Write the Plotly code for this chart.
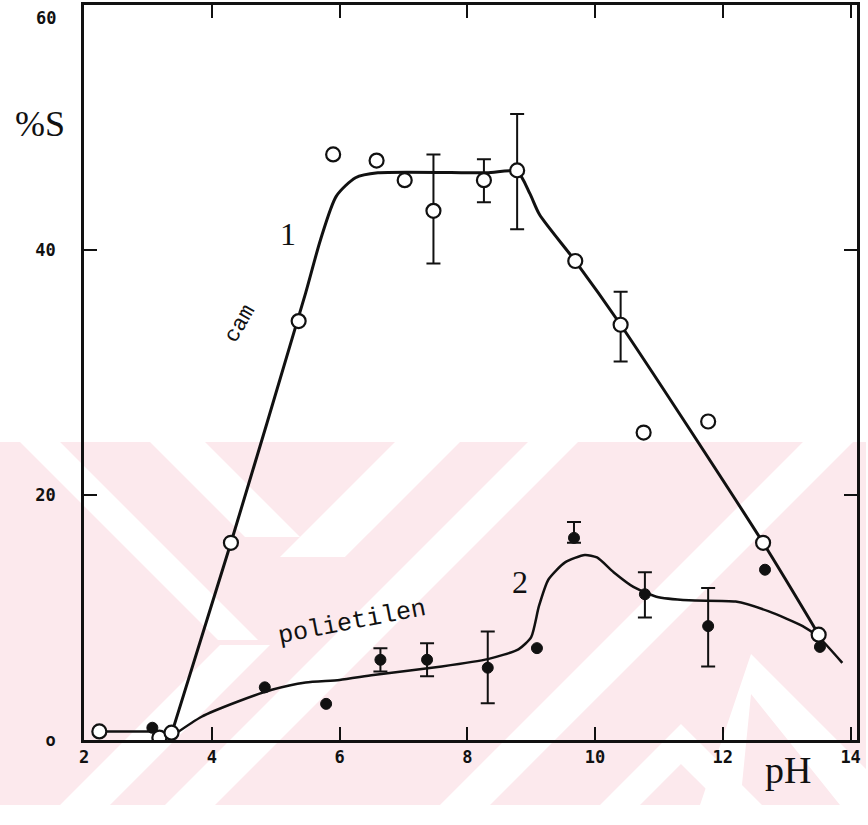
import plotly.graph_objects as go

# ---------------- data ----------------
# series 1 : "cam" (open circles)
ph_cam = [2.24, 3.18, 3.37, 4.30, 5.36, 5.90, 6.58, 7.02, 7.47, 8.26, 8.78, 9.69, 10.40, 10.76, 11.77, 12.63, 13.50]
s_cam = [0.7, 0.2, 0.6, 16.1, 34.2, 47.8, 47.3, 45.7, 43.2, 45.7, 46.5, 39.1, 33.9, 25.1, 26.0, 16.1, 8.6]
err_cam_up = [0, 0, 0, 0, 0, 0, 0, 0, 4.6, 1.7, 4.6, 0, 2.7, 0, 0, 0, 0]
err_cam_dn = [0, 0, 0, 0, 0, 0, 0, 0, 4.3, 1.8, 4.8, 0, 3.0, 0, 0, 0, 0]

# series 2 : "polietilen" (filled dots)
ph_pe = [3.07, 4.83, 5.79, 6.64, 7.37, 8.32, 9.09, 9.67, 10.78, 11.77, 12.66, 13.52]
s_pe = [1.0, 4.3, 2.95, 6.55, 6.55, 5.9, 7.5, 16.5, 11.9, 9.3, 13.9, 7.6]
err_pe_up = [0, 0, 0, 0.95, 1.35, 2.95, 0, 1.3, 1.8, 3.1, 0, 0]
err_pe_dn = [0, 0, 0, 0.95, 1.35, 2.9, 0, 0.4, 1.9, 3.3, 0, 0]

# fitted curves drawn in the figure
curve0_x = [2.24, 3.07]
curve0_y = [0.7, 0.7]
curve1_x = [3.37, 4.30, 5.47, 5.70, 5.95, 6.25, 6.60, 8.30, 8.78, 8.98, 9.13, 9.69, 10.40, 12.63, 13.50]
curve1_y = [0.5, 16.1, 36.5, 40.8, 44.4, 45.9, 46.3, 46.3, 46.4, 44.6, 42.9, 39.1, 33.9, 16.1, 8.6]
curve2_x = [3.40, 3.84, 4.39, 4.94, 5.47, 6.00, 6.53, 7.60, 8.32, 8.80, 9.00, 9.12, 9.27, 9.53, 9.84,
            10.03, 10.29, 10.60, 10.96, 11.47, 12.20, 12.72, 13.25, 13.50, 13.87]
curve2_y = [0.4, 1.9, 3.1, 4.1, 4.7, 4.9, 5.3, 6.0, 6.6, 7.4, 8.4, 10.9, 13.1, 14.5, 15.1,
            14.9, 13.7, 12.5, 11.7, 11.4, 11.3, 10.5, 9.3, 8.4, 6.3]

x_ticks = [2, 4, 6, 8, 10, 12, 14]
y_ticks = [0, 20, 40, 60]
y_ticktext = ["o", "20", "40", ""]   # the "60" label sits a little below the top edge (annotation)
top_label = "60"

# ---------------- layout geometry ----------------
W, H = 868, 825
L, R, T, B = 84, 11, 5, 85
X_RANGE = [2, 14.1]
Y_RANGE = [0, 60]

def px(x):
    return (x - L) / (W - L - R)

def py(y):
    return (H - B - y) / (H - B - T)

BLACK = "#111111"
fig = go.Figure()

fig.add_trace(go.Scatter(x=curve0_x, y=curve0_y, mode="lines",
                         line=dict(color=BLACK, width=2.5), showlegend=False, hoverinfo="skip"))
fig.add_trace(go.Scatter(x=curve1_x, y=curve1_y, mode="lines",
                         line=dict(color=BLACK, width=3, shape="spline", smoothing=0.7),
                         showlegend=False, hoverinfo="skip"))
fig.add_trace(go.Scatter(x=curve2_x, y=curve2_y, mode="lines",
                         line=dict(color=BLACK, width=2.5, shape="spline", smoothing=0.6),
                         showlegend=False, hoverinfo="skip"))


def add_series(xs, ys, up, dn, marker, capw):
    has = [i for i in range(len(xs)) if up[i] > 0 or dn[i] > 0]
    fig.add_trace(go.Scatter(
        x=[xs[i] for i in has], y=[ys[i] for i in has], mode="markers",
        marker=dict(size=1, opacity=0),
        error_y=dict(type="data", symmetric=False, array=[up[i] for i in has],
                     arrayminus=[dn[i] for i in has], color=BLACK, thickness=2, width=capw),
        showlegend=False, hoverinfo="skip"))
    fig.add_trace(go.Scatter(x=xs, y=ys, mode="markers", marker=marker, showlegend=False))


add_series(ph_pe, s_pe, err_pe_up, err_pe_dn,
           dict(symbol="circle", size=11, color=BLACK, line=dict(color=BLACK, width=1)), 7)
add_series(ph_cam, s_cam, err_cam_up, err_cam_dn,
           dict(symbol="circle", size=14, color="white", line=dict(color=BLACK, width=2.2)), 7)

# ---------------- watermark (pale pink chevron stripes) ----------------
PINK = "#FCE9ED"
shapes = []

def poly(pts, color):
    path = "M " + " L ".join(f"{px(a):.4f},{py(b):.4f}" for a, b in pts) + " Z"
    shapes.append(dict(type="path", path=path, xref="paper", yref="paper",
                       fillcolor=color, line=dict(width=0), layer="below"))

poly([(0, 442), (866, 442), (866, 805), (0, 805)], PINK)
# "\" stripes
poly([(20, 442), (60, 442), (258, 640), (218, 640)], "white")
poly([(150, 442), (205, 442), (300, 537), (245, 537)], "white")
poly([(395, 442), (460, 442), (345, 557), (280, 557)], "white")
# "/" stripes
poly([(60, 805), (110, 805), (270, 645), (220, 645)], "white")
poly([(165, 805), (215, 805), (578, 442), (528, 442)], "white")
poly([(440, 805), (490, 805), (853, 442), (803, 442)], "white")
# lower chevrons
poly([(600, 805), (681, 724), (762, 805), (722, 805), (681, 764), (640, 805)], "white")
poly([(700, 805), (751, 654), (866, 769), (866, 805), (840, 805), (751, 694), (740, 805)], "white")

fig.update_layout(shapes=shapes)

# ---------------- annotations ----------------
def note(xp, yp, text, size, family, angle=0):
    return dict(x=px(xp), y=py(yp), xref="paper", yref="paper", text=text, showarrow=False,
                xanchor="center", yanchor="middle", textangle=angle,
                font=dict(family=family, size=size, color=BLACK))

ann = [
    note(46, 18, f"<b>{top_label}</b>", 17, "DejaVu Sans Mono"),
    note(40, 124, "%S", 36, "Liberation Serif"),
    note(788, 770, "pH", 38, "Liberation Serif"),
    note(288, 234, "1", 32, "Liberation Serif"),
    note(520, 582, "2", 32, "Liberation Serif"),
    note(241, 324, "cam", 22, "Liberation Mono", -60),
    note(352, 622, "polietilen", 25, "Liberation Mono", -11),
]
fig.update_layout(annotations=ann)

axis_common = dict(showgrid=False, zeroline=False, showline=True, linecolor=BLACK, linewidth=2.5,
                   mirror="ticks", ticks="inside", ticklen=13, tickwidth=2, tickcolor=BLACK,
                   automargin=False,
                   tickfont=dict(family="DejaVu Sans Mono", size=17, color=BLACK))
fig.update_xaxes(range=X_RANGE, tickvals=x_ticks, ticktext=[f"<b>{v}</b>" for v in x_ticks],
                 **axis_common)
fig.update_yaxes(range=Y_RANGE, tickvals=y_ticks,
                 ticktext=[f"<b>{t}</b>" if t else "" for t in y_ticktext], ticklabelstandoff=22,
                 **axis_common)

fig.update_layout(width=W, height=H, margin=dict(l=L, r=R, t=T, b=B),
                  paper_bgcolor="white", plot_bgcolor="rgba(0,0,0,0)", showlegend=False)

fig.write_html("out.html")
